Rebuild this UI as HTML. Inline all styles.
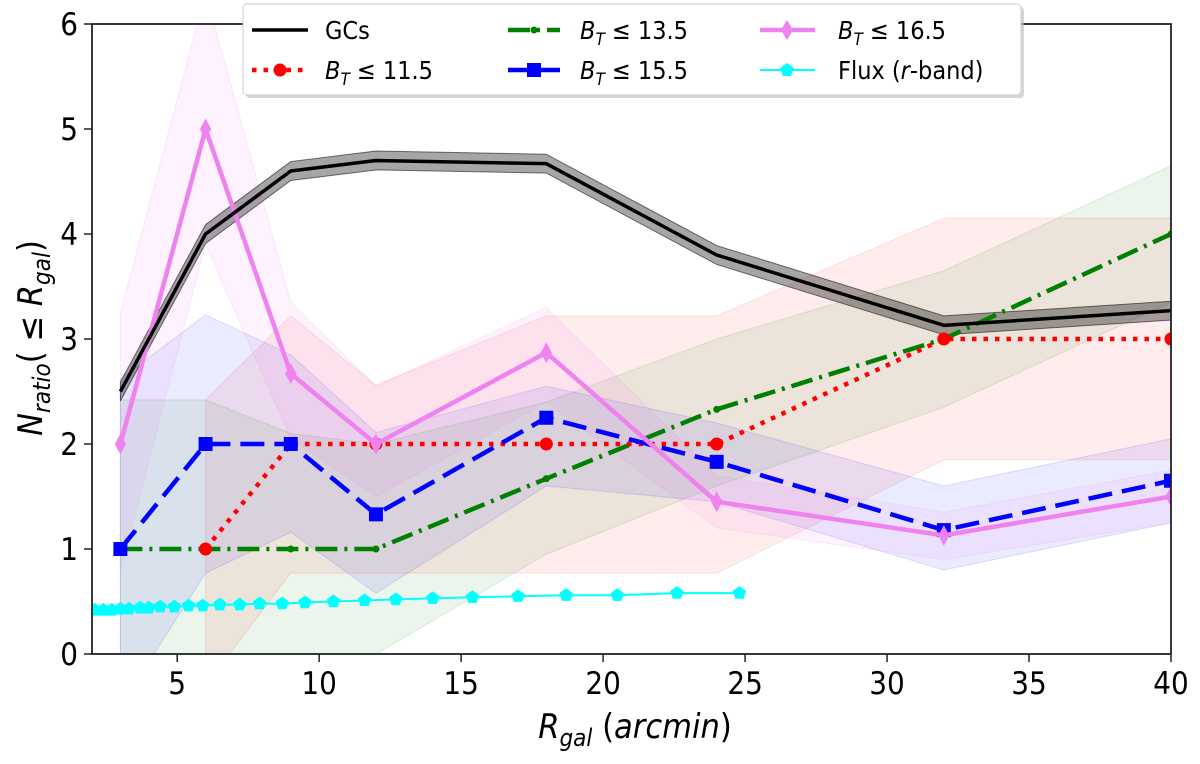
<!DOCTYPE html>
<html><head><meta charset="utf-8"><style>
body{margin:0;background:#fff}
svg text{font-family:"DejaVu Sans Condensed","DejaVu Sans","Liberation Sans",sans-serif;font-stretch:condensed}
</style></head><body>
<svg id="chart" width="1200" height="759" xmlns="http://www.w3.org/2000/svg"></svg>
<script>
const gcX=[3,6,9,12,18,24,32,40];
const gcY=[2.5,4.0,4.6,4.7,4.67,3.8,3.13,3.27];
const b11X=[6,9,12,18,24,32,40];
const b11Y=[1,2,2,2,2,3,3];
const b11Lo=[-0.3,0.77,0.77,0.77,0.77,1.85,1.85];
const b11Hi=[2.42,3.22,2.56,3.22,3.22,4.15,4.15];
const b13X=[3,6,9,12,18,24,32,40];
const b13Y=[1,1,1,1,1.67,2.33,3,4];
const b13Lo=[-1,-1,-0.6,0,0.95,1.6,2.35,3.35];
const b13Hi=[2.42,2.42,2.1,2.0,2.4,3.0,3.65,4.65];
const b15X=[3,6,9,12,18,24,32,40];
const b15Y=[1,2,2,1.33,2.25,1.83,1.18,1.65];
const b15Lo=[-0.5,0.77,1.16,0.58,1.6,1.45,0.8,1.25];
const b15Hi=[2.62,3.23,2.85,2.11,2.55,2.2,1.6,2.05];
const b16X=[3,6,9,12,18,24,32,40];
const b16Y=[2,5,2.67,2,2.87,1.45,1.13,1.5];
const b16Lo=[0.8,3.9,2.05,1.5,2.4,1.2,0.9,1.25];
const b16Hi=[3.25,6.3,3.35,2.55,3.3,1.7,1.35,1.75];
const fluxX=[2.1,2.4,2.7,3.0,3.3,3.7,4.0,4.4,4.9,5.4,5.9,6.5,7.2,7.9,8.7,9.5,10.5,11.6,12.7,14.0,15.4,17.0,18.7,20.5,22.6,24.8];
const fluxY=[0.42,0.42,0.42,0.43,0.43,0.44,0.44,0.45,0.45,0.46,0.46,0.47,0.47,0.48,0.48,0.49,0.5,0.51,0.52,0.53,0.54,0.55,0.56,0.56,0.58,0.58];
const xTicks=[5,10,15,20,25,30,35,40];
const yTicks=[0,1,2,3,4,5,6];

const L=92,R=1171,T=24,B=654,X0=2,X1=40,Y0=0,Y1=6;
const sx=v=>L+(v-X0)/(X1-X0)*(R-L);
const sy=v=>B-(v-Y0)/(Y1-Y0)*(B-T);
const svg=document.getElementById('chart');
const NS='http://www.w3.org/2000/svg';
function mk(tag,attrs,parent){const e=document.createElementNS(NS,tag);for(const k in attrs)e.setAttribute(k,attrs[k]);(parent||svg).appendChild(e);return e;}

const defs=mk('defs',{});
const cp=mk('clipPath',{id:'pc'},defs);
mk('rect',{x:L,y:T,width:R-L,height:B-T},cp);
const plot=mk('g',{'clip-path':'url(#pc)'});



function band(xs,lo,hi,col,op,name){
  let d='M'+xs.map((x,i)=>sx(x)+','+sy(hi[i])).join('L');
  for(let i=xs.length-1;i>=0;i--)d+='L'+sx(xs[i])+','+sy(lo[i]);
  const p=mk('path',{d:d+'Z',fill:col,'fill-opacity':op,stroke:col,'stroke-opacity':op*1.5},plot);
  
  
}
band(b13X,b13Lo,b13Hi,'green',0.08,'band-bt13-5');
band(b11X,b11Lo,b11Hi,'red',0.07,'band-bt11-5');
band(b15X,b15Lo,b15Hi,'blue',0.08,'band-bt15-5');
band(b16X,b16Lo,b16Hi,'violet',0.1,'band-bt16-5');
const gcLo=gcY.map(v=>v-0.09), gcHi=gcY.map(v=>v+0.09);
band(gcX,gcLo,gcHi,'black',0.35,'band-gcs');

function line(xs,ys,col,w,dash,name){
  const p=mk('polyline',{points:xs.map((x,i)=>sx(x)+','+sy(ys[i])).join(' '),fill:'none',stroke:col,'stroke-width':w,'stroke-dasharray':dash||'none','stroke-linejoin':'round'},plot);
  
  
}
function markers(xs,ys,kind,col,s,name,parent){
  xs.forEach((x,i)=>{
    const cx=sx(x),cy=sy(ys[i]);let e;
    if(kind==='circle')e=mk('circle',{cx,cy,r:s,fill:col},parent||plot);
    else if(kind==='square')e=mk('rect',{x:cx-s,y:cy-s,width:2*s,height:2*s,fill:col},parent||plot);
    else if(kind==='diamond')e=mk('polygon',{points:`${cx},${cy-s*1.3} ${cx+s*0.7},${cy} ${cx},${cy+s*1.3} ${cx-s*0.7},${cy}`,fill:col},parent||plot);
    else if(kind==='pent'){let pts=[];for(let k=0;k<5;k++){const a=-Math.PI/2+k*2*Math.PI/5;pts.push((cx+s*Math.cos(a))+','+(cy+s*Math.sin(a)));}e=mk('polygon',{points:pts.join(' '),fill:col},parent||plot);}
    
    
  });
}
line(fluxX,fluxY,'cyan',2,null,'line-flux');
markers(fluxX,fluxY,'pent','cyan',7,'point-flux');
line(b13X,b13Y,'green',4.5,'22 7 3 7','line-bt13-5');
markers(b13X,b13Y,'circle','green',3.5,'point-bt13-5');
line(b11X,b11Y,'red',4.5,'4.5 7','line-bt11-5');
markers(b11X,b11Y,'circle','red',6.5,'point-bt11-5');
line(b15X,b15Y,'blue',4.5,'24 10','line-bt15-5');
markers(b15X,b15Y,'square','blue',7,'point-bt15-5');
line(b16X,b16Y,'violet',4.5,null,'line-bt16-5');
markers(b16X,b16Y,'diamond','violet',8,'point-bt16-5');
line(gcX,gcY,'black',3.5,null,'line-gcs');

const ax=mk('rect',{x:L,y:T,width:R-L,height:B-T,fill:'none',stroke:'#222','stroke-width':1.8});


xTicks.forEach(t=>{
  const tl=mk('line',{x1:sx(t),x2:sx(t),y1:B,y2:B+8,stroke:'#222','stroke-width':1.5});
  
  
  const tx=mk('text',{x:sx(t),y:B+40,'text-anchor':'middle','font-size':31});
  tx.textContent=t;
  
  
});
yTicks.forEach(t=>{
  const tl=mk('line',{x1:L-8,x2:L,y1:sy(t),y2:sy(t),stroke:'#222','stroke-width':1.5});
  
  
  const tx=mk('text',{x:L-14,y:sy(t)+11,'text-anchor':'end','font-size':31});
  tx.textContent=t;
  
  
});
</script>
<svg style="position:absolute;left:0;top:0" width="1200" height="759" xmlns="http://www.w3.org/2000/svg">
<text x="635" y="738" text-anchor="middle" font-size="34"><tspan font-style="italic">R</tspan><tspan font-style="italic" font-size="24" dy="8">gal</tspan><tspan dy="-8"> (</tspan><tspan font-style="italic">arcmin</tspan>)</text>
<text transform="translate(42,338) rotate(-90)" text-anchor="middle" font-size="34"><tspan font-style="italic">N</tspan><tspan font-style="italic" font-size="24" dy="8">ratio</tspan><tspan dy="-8">( ≤ </tspan><tspan font-style="italic">R</tspan><tspan font-style="italic" font-size="24" dy="8">gal</tspan><tspan dy="-8">)</tspan></text>
<g font-size="25">
<rect x="246" y="7" width="778" height="91" rx="4" fill="#bbb" opacity="0.6"/>
<rect x="243" y="4" width="778" height="91" rx="4" fill="#fff" stroke="#ccc"/>
<g><line x1="252" x2="308" y1="30" y2="30" stroke="black" stroke-width="3.5"/><text x="325" y="39">GCs</text></g>
<g><line x1="252" x2="308" y1="70" y2="70" stroke="red" stroke-width="4.5" stroke-dasharray="4.5 7"/><circle cx="280" cy="70" r="6.5" fill="red"/><text x="325" y="79"><tspan font-style="italic">B</tspan><tspan font-style="italic" font-size="17" dy="6">T</tspan><tspan dy="-6"> ≤ 11.5</tspan></text></g>
<g><line x1="508" x2="560" y1="30" y2="30" stroke="green" stroke-width="4.5" stroke-dasharray="22 7 3 7"/><circle cx="534" cy="30" r="3.5" fill="green"/><text x="580" y="39"><tspan font-style="italic">B</tspan><tspan font-style="italic" font-size="17" dy="6">T</tspan><tspan dy="-6"> ≤ 13.5</tspan></text></g>
<g><line x1="508" x2="560" y1="70" y2="70" stroke="blue" stroke-width="4.5"/><rect x="527" y="63" width="14" height="14" fill="blue"/><text x="580" y="79"><tspan font-style="italic">B</tspan><tspan font-style="italic" font-size="17" dy="6">T</tspan><tspan dy="-6"> ≤ 15.5</tspan></text></g>
<g><line x1="760" x2="815" y1="30" y2="30" stroke="violet" stroke-width="4.5"/><polygon points="787,20 793,30 787,40 781,30" fill="violet"/><text x="838" y="39"><tspan font-style="italic">B</tspan><tspan font-style="italic" font-size="17" dy="6">T</tspan><tspan dy="-6"> ≤ 16.5</tspan></text></g>
<g><line x1="760" x2="815" y1="70" y2="70" stroke="cyan" stroke-width="2"/><polygon points="787,63 794,68 791,76 783,76 780,68" fill="cyan"/><text x="838" y="79">Flux (<tspan font-style="italic">r</tspan>-band)</text></g>
</g>
</svg>
</body></html>
